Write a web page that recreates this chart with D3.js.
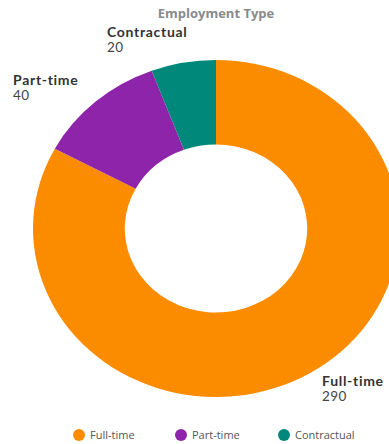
<!DOCTYPE html>
<html>
<head>
<meta charset="utf-8">
<script src="https://cdn.jsdelivr.net/npm/d3@7"></script>
<style>
  html, body { margin: 0; padding: 0; background: #fff; }
  svg { display: block; font-family: "Open Sans", "Noto Sans", sans-serif; }
</style>
</head>
<body>
<svg id="chart" width="389" height="444"></svg>
<script>
const categories = ["Full-time", "Part-time", "Contractual"];
const counts = [290, 40, 20];
const colors = ["#FB8C00", "#8E24AA", "#00897B"];

const svg = d3.select("#chart");

// Donut geometry (drawn slightly wider than tall)
const cx = 216, cy = 228.5;
const outerR = 168.5, innerR = 84;
const stretchX = 1.086;

const data = categories.map((c, i) => ({ name: c, value: counts[i], color: colors[i] }));

const pie = d3.pie().value(d => d.value).sort(null);
const arc = d3.arc().innerRadius(innerR).outerRadius(outerR);

svg.append("text")
  .attr("x", 216).attr("y", 18)
  .attr("text-anchor", "middle")
  .attr("font-size", 13).attr("font-weight", 700)
  .attr("fill", "#8a8a8a")
  .text("Employment Type");

const g = svg.append("g")
  .attr("transform", `translate(${cx},${cy}) scale(${stretchX},1)`);

g.selectAll("path")
  .data(pie(data))
  .join("path")
  .attr("d", arc)
  .attr("fill", d => d.data.color);

// Outside labels: name in bold, value underneath
const labelPos = {
  "Full-time": [322, 386],
  "Part-time": [13, 85],
  "Contractual": [107, 37]
};
const labelFont = "Lato, 'Open Sans', sans-serif";
const labels = svg.append("g");
data.forEach(d => {
  const [x, y] = labelPos[d.name];
  labels.append("text").attr("x", x).attr("y", y)
    .attr("font-family", labelFont)
    .attr("letter-spacing", 0.7)
    .attr("fill", "#333").attr("font-size", 14).attr("font-weight", 700)
    .text(d.name);
  labels.append("text").attr("x", x).attr("y", y + 15)
    .attr("font-family", labelFont)
    .attr("letter-spacing", 0.4)
    .attr("fill", "#444").attr("font-size", 13.5)
    .text(d.value);
});

// Legend
const legendX = [79, 181, 284];
const legend = svg.append("g");
data.forEach((d, i) => {
  const lg = legend.append("g").attr("transform", `translate(${legendX[i]},435)`);
  lg.append("circle").attr("r", 6).attr("fill", d.color);
  lg.append("text").attr("x", 11).attr("y", 4)
    .attr("font-size", 11).attr("fill", "#555").text(d.name);
});
</script>
</body>
</html>
